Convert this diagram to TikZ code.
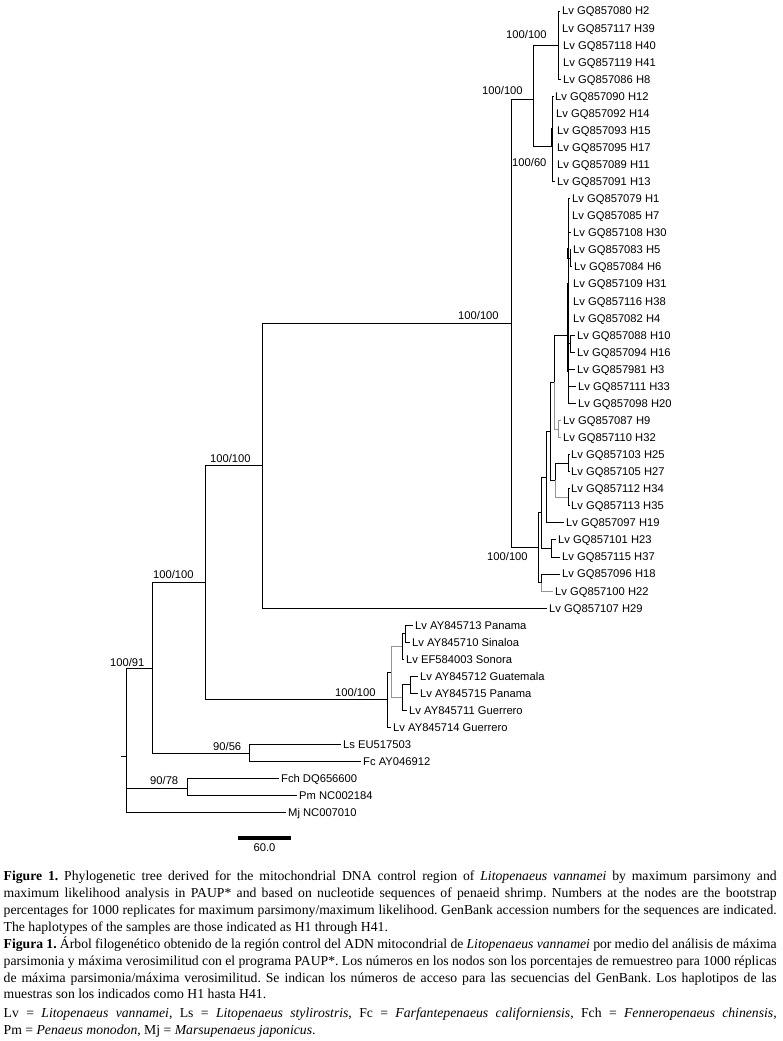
\documentclass[tikz,border=0pt]{standalone}
\usepackage{fontspec}
\setmainfont{Liberation Serif}
\newfontfamily\treefont{Liberation Sans}
\begin{document}
\frenchspacing
\begin{tikzpicture}[x=1pt,y=-1pt,
  lf/.style={font=\treefont\fontsize{11.2}{13}\selectfont, anchor=west, inner sep=0pt, text height=8pt, text depth=0pt},
  bsv/.style={lf},
  br/.style={draw=black, line width=0.85pt},
  gbr/.style={draw=black!42, line width=0.85pt},
  thk/.style={draw=black, line width=2.5pt},
  capline/.style={font={\fontsize{13.7}{16.9}\selectfont\frenchspacing}, anchor=base west, inner sep=0pt}]
\useasboundingbox (0,0) rectangle (782,1041);
\fill[white] (0,0) rectangle (782,1041);

% internal node coordinates
\coordinate (root) at (126,756);
\coordinate (rootstub) at (121,756);
\coordinate (n91) at (152,668);
\coordinate (n78) at (187,788);
\coordinate (n205) at (205,582);
\coordinate (n56) at (249,753);
\coordinate (n262) at (262,465);
\coordinate (nL) at (387,699.9);
\coordinate (nR) at (511,323);
\coordinate (nK) at (533,99);
\coordinate (nA) at (538,547);
\coordinate (nT1) at (558,45.1);
\coordinate (nT2) at (552,146);
\coordinate (nB) at (541,512.7);
\coordinate (nF) at (541,582.5);
\coordinate (nD) at (546,477);
\coordinate (nV) at (551,548.4);
\coordinate (nE) at (550,431);
\coordinate (nU) at (554,382);
\coordinate (nG) at (555,480);
\coordinate (nP) at (568,335);
\coordinate (nW) at (558,429);
\coordinate (nQ1) at (568,463.1);
\coordinate (nQ2) at (568,497.2);
\coordinate (nH56) at (570,258.4);
\coordinate (nH1016) at (570.5,343.7);
\coordinate (nM) at (391,672.2);
\coordinate (nN) at (402,646.75);
\coordinate (nO) at (402,697.9);
\coordinate (nP1) at (405,633.7);
\coordinate (nQ) at (410,684.9);

% leaf labels
\node[lf] (lH2) at (562,11) {Lv GQ857080 H2};
\node[lf] (lH39) at (562,28.06) {Lv GQ857117 H39};
\node[lf] (lH40) at (563,45.12) {Lv GQ857118 H40};
\node[lf] (lH41) at (563,62.18) {Lv GQ857119 H41};
\node[lf] (lH8) at (563,79.24) {Lv GQ857086 H8};
\node[lf] (lH12) at (555,96.3) {Lv GQ857090 H12};
\node[lf] (lH14) at (556,113.36) {Lv GQ857092 H14};
\node[lf] (lH15) at (557,130.42) {Lv GQ857093 H15};
\node[lf] (lH17) at (557,147.48) {Lv GQ857095 H17};
\node[lf] (lH11) at (557,164.54) {Lv GQ857089 H11};
\node[lf] (lH13) at (557,181.6) {Lv GQ857091 H13};
\node[lf] (lH1) at (572,198.66) {Lv GQ857079 H1};
\node[lf] (lH7) at (572,215.72) {Lv GQ857085 H7};
\node[lf] (lH30) at (573,232.78) {Lv GQ857108 H30};
\node[lf] (lH5) at (573,249.84) {Lv GQ857083 H5};
\node[lf] (lH6) at (574,266.9) {Lv GQ857084 H6};
\node[lf] (lH31) at (573,283.96) {Lv GQ857109 H31};
\node[lf] (lH38) at (573,301.02) {Lv GQ857116 H38};
\node[lf] (lH4) at (573,318.08) {Lv GQ857082 H4};
\node[lf] (lH10) at (577,335.14) {Lv GQ857088 H10};
\node[lf] (lH16) at (577,352.2) {Lv GQ857094 H16};
\node[lf] (lH3) at (577,369.26) {Lv GQ857981 H3};
\node[lf] (lH33) at (578,386.32) {Lv GQ857111 H33};
\node[lf] (lH20) at (578,403.38) {Lv GQ857098 H20};
\node[lf] (lH9) at (563,420.44) {Lv GQ857087 H9};
\node[lf] (lH32) at (563,437.5) {Lv GQ857110 H32};
\node[lf] (lH25) at (571,454.56) {Lv GQ857103 H25};
\node[lf] (lH27) at (571,471.62) {Lv GQ857105 H27};
\node[lf] (lH34) at (571,488.68) {Lv GQ857112 H34};
\node[lf] (lH35) at (571,505.74) {Lv GQ857113 H35};
\node[lf] (lH19) at (566,522.8) {Lv GQ857097 H19};
\node[lf] (lH23) at (558,539.86) {Lv GQ857101 H23};
\node[lf] (lH37) at (562,556.92) {Lv GQ857115 H37};
\node[lf] (lH18) at (562,573.98) {Lv GQ857096 H18};
\node[lf] (lH22) at (555,591.04) {Lv GQ857100 H22};
\node[lf] (lH29) at (549,608.1) {Lv GQ857107 H29};
\node[lf] (lPan3) at (415,625.16) {Lv AY845713 Panama};
\node[lf] (lSin) at (412,642.22) {Lv AY845710 Sinaloa};
\node[lf] (lSon) at (406,659.28) {Lv EF584003 Sonora};
\node[lf] (lGua) at (420,676.34) {Lv AY845712 Guatemala};
\node[lf] (lPan5) at (420,693.4) {Lv AY845715 Panama};
\node[lf] (lGue1) at (409,710.46) {Lv AY845711 Guerrero};
\node[lf] (lGue4) at (393,727.52) {Lv AY845714 Guerrero};
\node[lf] (lLs) at (343,744.58) {Ls EU517503};
\node[lf] (lFc) at (363,761.64) {Fc AY046912};
\node[lf] (lFch) at (281,778.7) {Fch DQ656600};
\node[lf] (lPm) at (299,795.76) {Pm NC002184};
\node[lf] (lMj) at (288,812.82) {Mj NC007010};

% branches: backbone
\draw[br] (rootstub) -- (root);
\draw[br] (root) |- (n91) (root) |- (n78) (root) |- ([xshift=-2pt]lMj.west);
\draw[br] (n91) |- (n205) (n91) |- (n56);
\draw[br] (n205) |- (n262) (n205) |- (nL);
\draw[br] (n262) |- (nR) (n262) |- ([xshift=-2pt]lH29.west);
\draw[br] (nR) |- (nK) (nR) |- (nA);
\draw[br] (nK) |- (nT1) (nK) |- (nT2);
\draw[br] (nT1) |- ([xshift=-2pt]lH2.west) (nT1) |- ([xshift=-2pt]lH8.west);
\draw[br] (nT2) |- ([xshift=-1.5pt]lH12.west) (nT2) |- ([xshift=-2pt]lH13.west);
\draw[thk] (552,128) -- (552,147);

% middle clade
\draw[br] (nA) |- (nB) (nA) |- (nF);
\draw[br] (nB) |- (nD) (nB) |- (nV);
\draw[br] (nF) |- ([xshift=-2pt]lH18.west);
\draw[gbr] (nF) |- ([xshift=-2pt]lH22.west);
\draw[br] (nV) |- ([xshift=-2pt]lH23.west) (nV) |- ([xshift=-2pt]lH37.west);
\draw[br] (nD) |- (nE) (nD) |- ([xshift=-2pt]lH19.west);
\draw[br] (nE) |- (nU) (nE) |- (nG);
\draw[br] (nU) |- (nP);
\draw[gbr] (nU) |- (nW);
\draw[gbr] (nW) |- ([xshift=-2pt]lH9.west) (nW) |- ([xshift=-2pt]lH32.west);
\draw[br] (nG) |- (nQ1);
\draw[gbr] (nG) |- (nQ2);
\draw[br] (nQ1) |- ([xshift=-1pt]lH25.west) (nQ1) |- ([xshift=-1pt]lH27.west);
\draw[br] (nQ2) |- ([xshift=-1pt]lH34.west) (nQ2) |- ([xshift=-1pt]lH35.west);
\draw[br] (nP) |- ([xshift=-2pt]lH1.west) (nP) |- ([xshift=-2pt]lH20.west)
  (nP) |- ([xshift=-2pt]lH30.west) (nP) |- (nH56) (nP) |- (nH1016)
  (nP) |- ([xshift=-2pt]lH3.west) (nP) |- ([xshift=-2pt]lH33.west);
\draw[br] (nH56) |- ([xshift=-2pt]lH5.west) (nH56) |- ([xshift=-2pt]lH6.west);
\draw[br] (nH1016) |- ([xshift=-2pt]lH10.west) (nH1016) |- ([xshift=-2pt]lH16.west);
\draw[thk] (568,248) -- (568,259);
\draw[thk] (568,283) -- (568,372);

% lower Lv clade
\draw[br] (nL) |- (nM) (nL) |- ([xshift=-2pt]lGue4.west);
\draw[gbr] (nM) |- (nN) (nM) |- (nO);
\draw[br] (nN) |- (nP1) (nN) |- ([xshift=-2pt]lSon.west);
\draw[br] (nP1) |- ([xshift=-2pt]lPan3.west) (nP1) |- ([xshift=-2pt]lSin.west);
\draw[br] (nO) |- (nQ) (nO) |- ([xshift=-2pt]lGue1.west);
\draw[br] (nQ) |- ([xshift=-2pt]lGua.west) (nQ) |- ([xshift=-2pt]lPan5.west);

% outgroups
\draw[br] (n56) |- ([xshift=-2pt]lLs.west) (n56) |- ([xshift=-2pt]lFc.west);
\draw[br] (n78) |- ([xshift=-2pt]lFch.west) (n78) |- ([xshift=-2pt]lPm.west);

% support values
\node[bsv] (s1) at (506,35) {100/100};
\node[bsv] (s2) at (482,90) {100/100};
\node[bsv] (s3) at (512,162) {100/60};
\node[bsv] (s4) at (458,315) {100/100};
\node[bsv] (s5) at (487,556) {100/100};
\node[bsv] (s6) at (210,458) {100/100};
\node[bsv] (s7) at (153,574) {100/100};
\node[bsv] (s8) at (110,662) {100/91};
\node[bsv] (s9) at (335,692) {100/100};
\node[bsv] (s10) at (213,746) {90/56};
\node[bsv] (s11) at (150,780) {90/78};

% scale bar
\coordinate (sbL) at (238,838);
\coordinate (sbR) at (291,838);
\draw[line width=3.6pt] (sbL) -- (sbR);
\node[bsv, anchor=center] (sbt) at (264.5,847) {60.0};

% caption
\node[capline] (c1) at (3.5,880) {\makebox[773pt][s]{\textbf{Figure 1.} Phylogenetic tree derived for the mitochondrial DNA control region of \textit{Litopenaeus vannamei} by maximum parsimony and}};
\node[capline] (c2) at (3.5,897) {\makebox[773pt][s]{maximum likelihood analysis in PAUP* and based on nucleotide sequences of penaeid shrimp. Numbers at the nodes are the bootstrap}};
\node[capline] (c3) at (3.5,914) {\makebox[773pt][s]{percentages for 1000 replicates for maximum parsimony/maximum likelihood. GenBank accession numbers for the sequences are indicated.}};
\node[capline] (c4) at (3.5,931) {The haplotypes of the samples are those indicated as H1 through H41.};
\node[capline] (c5) at (3.5,948) {\makebox[773pt][s]{\textbf{Figura 1.} Árbol filogenético obtenido de la región control del ADN mitocondrial de \textit{Litopenaeus vannamei} por medio del análisis de máxima}};
\node[capline] (c6) at (3.5,965) {\makebox[773pt][s]{parsimonia y máxima verosimilitud con el programa PAUP*. Los números en los nodos son los porcentajes de remuestreo para 1000 réplicas}};
\node[capline] (c7) at (3.5,982) {\makebox[773pt][s]{de máxima parsimonia/máxima verosimilitud. Se indican los números de acceso para las secuencias del GenBank. Los haplotipos de las}};
\node[capline] (c8) at (3.5,998.5) {muestras son los indicados como H1 hasta H41.};
\node[capline] (c9) at (3.5,1017) {\makebox[773pt][s]{Lv = \textit{Litopenaeus vannamei}, Ls = \textit{Litopenaeus stylirostris}, Fc = \textit{Farfantepenaeus californiensis}, Fch = \textit{Fenneropenaeus chinensis},}};
\node[capline] (c10) at (3.5,1034) {Pm = \textit{Penaeus monodon}, Mj = \textit{Marsupenaeus japonicus}.};
\end{tikzpicture}
\end{document}
